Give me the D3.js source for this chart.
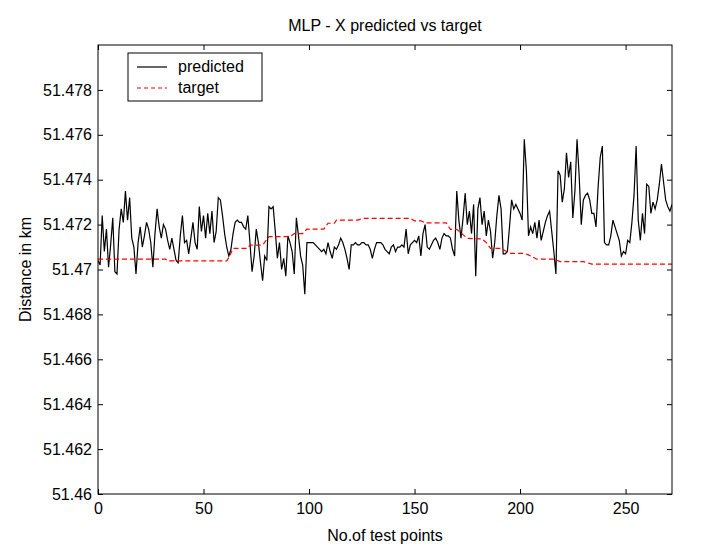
<!DOCTYPE html>
<html>
<head>
<meta charset="utf-8">
<script src="https://cdn.jsdelivr.net/npm/d3@7"></script>
<style>
  html, body { margin: 0; padding: 0; background: #ffffff; }
  svg { display: block; font-family: Arial, "Liberation Sans", sans-serif; }
</style>
</head>
<body>
<div id="chart"></div>
<script>
// ---------- data ----------
const titleText = "MLP - X predicted vs target";
const xLabelText = "No.of test points";
const yLabelText = "Distance in km";
const seriesNames = ["predicted", "target"];

const xDomain = [0, 272];
const yDomain = [51.46, 51.48];
const xTicks = [0, 50, 100, 150, 200, 250];
const xTickLabels = ["0", "50", "100", "150", "200", "250"];
const yTicks = [51.46, 51.462, 51.464, 51.466, 51.468, 51.47, 51.472, 51.474, 51.476, 51.478];
const yTickLabels = ["51.46", "51.462", "51.464", "51.466", "51.468", "51.47", "51.472", "51.474", "51.476", "51.478"];

// predicted value at test point index 0..272
const predicted = [
  51.4704, 51.4702, 51.4724, 51.4708, 51.4718, 51.4701, 51.4711, 51.4723, 51.4699, 51.4698,
  51.4718, 51.4727, 51.4721, 51.4735, 51.4722, 51.4732, 51.4714, 51.4710, 51.4698, 51.4712,
  51.4719, 51.4710, 51.4715, 51.4721, 51.4718, 51.4712, 51.4701, 51.4716, 51.4727, 51.4719,
  51.4714, 51.4720, 51.4718, 51.4713, 51.4709, 51.4714, 51.4709, 51.4704, 51.4703, 51.4715,
  51.4724, 51.4712, 51.4713, 51.4707, 51.4714, 51.4721, 51.4712, 51.4709, 51.4728, 51.4717,
  51.4724, 51.4714, 51.4725, 51.4716, 51.4726, 51.4712, 51.4717, 51.4732, 51.4731, 51.4724,
  51.4716, 51.4710, 51.4706, 51.4709, 51.4716, 51.4721, 51.4722, 51.4721, 51.4721, 51.4719,
  51.4718, 51.4724, 51.4712, 51.4699, 51.4706, 51.4718, 51.4712, 51.4703, 51.4695, 51.4706,
  51.4704, 51.4728, 51.4727, 51.4728, 51.4717, 51.4705, 51.4712, 51.4700, 51.4705, 51.4697,
  51.4715, 51.4712, 51.4708, 51.4698, 51.4723, 51.4715, 51.4706, 51.4702, 51.4689, 51.4712,
  51.4712, 51.4712, 51.4712, 51.4711, 51.4710, 51.4709, 51.4708, 51.4709, 51.4707, 51.4712,
  51.4708, 51.4705, 51.4710, 51.4709, 51.4711, 51.4714, 51.4712, 51.4709, 51.4705, 51.4700,
  51.4711, 51.4711, 51.4712, 51.4711, 51.4711, 51.4712, 51.4712, 51.4711, 51.4711, 51.4709,
  51.4705, 51.4709, 51.4712, 51.4712, 51.4712, 51.4711, 51.4709, 51.4708, 51.4707, 51.4710,
  51.4711, 51.4708, 51.4710, 51.4710, 51.4711, 51.4710, 51.4718, 51.4707, 51.4711, 51.4712,
  51.4713, 51.4712, 51.4715, 51.4706, 51.4716, 51.4720, 51.4710, 51.4709, 51.4711, 51.4713,
  51.4714, 51.4712, 51.4709, 51.4714, 51.4716, 51.4715, 51.4715, 51.4714, 51.4709, 51.4706,
  51.4735, 51.4722, 51.4714, 51.4723, 51.4734, 51.4720, 51.4726, 51.4716, 51.4729, 51.4697,
  51.4727, 51.4732, 51.4720, 51.4726, 51.4715, 51.4722, 51.4717, 51.4705, 51.4712, 51.4724,
  51.4733, 51.4727, 51.4707, 51.4707, 51.4708, 51.4719, 51.4731, 51.4727, 51.4729, 51.4727,
  51.4725, 51.4722, 51.4758, 51.4744, 51.4715, 51.4719, 51.4716, 51.4721, 51.4714, 51.4722,
  51.4713, 51.4717, 51.4721, 51.4724, 51.4726, 51.4717, 51.4708, 51.4698, 51.4744, 51.4742,
  51.4730, 51.4736, 51.4752, 51.4741, 51.4748, 51.4723, 51.4735, 51.4758, 51.4742, 51.4720,
  51.4731, 51.4733, 51.4734, 51.4731, 51.4725, 51.4725, 51.4719, 51.4737, 51.4750, 51.4755,
  51.4712, 51.4711, 51.4711, 51.4715, 51.4722, 51.4719, 51.4716, 51.4713, 51.4706, 51.4708,
  51.4707, 51.4713, 51.4712, 51.4721, 51.4733, 51.4755, 51.4722, 51.4713, 51.4725, 51.4716,
  51.4738, 51.4737, 51.4725, 51.4730, 51.4727, 51.4731, 51.4738, 51.4747, 51.4739, 51.4731,
  51.4728, 51.4726, 51.4729
];

// target: read at the points where its level changes
const targetX = [0, 32, 33, 61, 62, 64, 71, 72, 78, 81,
                 91, 93, 97, 99, 107, 109, 112, 113, 123, 126,
                 148, 150, 153, 155, 165, 167, 170, 175, 182, 184,
                 186, 191, 195, 202, 204, 208, 216, 219, 230, 234, 272];
const targetY = [51.47046, 51.47046, 51.47038, 51.47038, 51.47053, 51.47094, 51.47094, 51.47109, 51.47109, 51.47146,
                 51.47146, 51.4716, 51.4716, 51.4718, 51.4718, 51.47206, 51.47206, 51.4722, 51.4722, 51.47228,
                 51.47228, 51.47217, 51.47217, 51.47208, 51.47208, 51.47179, 51.47179, 51.47139, 51.47136, 51.4712,
                 51.47094, 51.47094, 51.47072, 51.47072, 51.47065, 51.47046, 51.47046, 51.47035, 51.47035, 51.47024, 51.47024];

// ---------- layout ----------
const W = 720, H = 550;
const m = { left: 98, top: 45, right: 48, bottom: 56 };
const pw = W - m.left - m.right, ph = H - m.top - m.bottom;

const svg = d3.select("#chart").append("svg").attr("width", W).attr("height", H);
svg.append("rect").attr("width", W).attr("height", H).attr("fill", "#ffffff");

const x = d3.scaleLinear().domain(xDomain).range([0, pw]);
const y = d3.scaleLinear().domain(yDomain).range([ph, 0]);

const g = svg.append("g").attr("transform", `translate(${m.left},${m.top})`);

svg.append("defs").append("clipPath").attr("id", "clip")
  .append("rect").attr("width", pw).attr("height", ph);

// axes (inward ticks, matlab style)
const fontSize = 16;
function styleAxis(sel) {
  sel.select(".domain").remove();
  sel.selectAll(".tick line").attr("stroke", "#000").attr("stroke-width", 1);
  sel.selectAll(".tick text").attr("fill", "#000").attr("font-size", fontSize)
     .attr("font-family", "Arial, 'Liberation Sans', sans-serif");
}
g.append("g").attr("transform", `translate(0,${ph})`)
  .call(d3.axisBottom(x).tickValues(xTicks).tickSizeInner(-5).tickSizeOuter(0).tickPadding(9)
        .tickFormat((d, i) => xTickLabels[i]))
  .call(styleAxis);
g.append("g")
  .call(d3.axisTop(x).tickValues(xTicks).tickSizeInner(-5).tickSizeOuter(0).tickFormat(""))
  .call(styleAxis);
g.append("g")
  .call(d3.axisLeft(y).tickValues(yTicks).tickSizeInner(-5).tickSizeOuter(0).tickPadding(6)
        .tickFormat((d, i) => yTickLabels[i]))
  .call(styleAxis);
g.append("g").attr("transform", `translate(${pw},0)`)
  .call(d3.axisRight(y).tickValues(yTicks).tickSizeInner(-5).tickSizeOuter(0).tickFormat(""))
  .call(styleAxis);

// lines
const plot = g.append("g").attr("clip-path", "url(#clip)");
const lineP = d3.line().x((d, i) => x(i)).y(d => y(d));
plot.append("path").datum(predicted)
  .attr("d", lineP).attr("fill", "none").attr("stroke", "#000").attr("stroke-width", 1.2);

const lineT = d3.line().x(d => x(d[0])).y(d => y(d[1]));
plot.append("path").datum(targetX.map((v, i) => [v, targetY[i]]))
  .attr("d", lineT).attr("fill", "none").attr("stroke", "#ff0000").attr("stroke-width", 1.2)
  .attr("stroke-dasharray", "5,3");

// box
g.append("rect").attr("width", pw).attr("height", ph)
  .attr("fill", "none").attr("stroke", "#000").attr("stroke-width", 1);

// title & labels
svg.append("text").attr("x", m.left + pw / 2).attr("y", 31).attr("text-anchor", "middle")
  .attr("font-size", fontSize).attr("fill", "#000").text(titleText);
svg.append("text").attr("x", m.left + pw / 2).attr("y", 541).attr("text-anchor", "middle")
  .attr("font-size", fontSize).attr("fill", "#000").text(xLabelText);
svg.append("text").attr("transform", `translate(31,${m.top + ph / 2}) rotate(-90)`)
  .attr("text-anchor", "middle").attr("font-size", fontSize).attr("fill", "#000").text(yLabelText);

// legend
const lg = svg.append("g").attr("transform", "translate(128,53)");
lg.append("rect").attr("width", 134).attr("height", 48).attr("fill", "#fff")
  .attr("stroke", "#000").attr("stroke-width", 1);
const styles = [{ c: "#000", dash: null }, { c: "#ff0000", dash: "4,3" }];
seriesNames.forEach((name, i) => {
  const yy = 14 + i * 21;
  lg.append("line").attr("x1", 9).attr("x2", 39).attr("y1", yy).attr("y2", yy)
    .attr("stroke", styles[i].c).attr("stroke-width", 1.2)
    .attr("stroke-dasharray", styles[i].dash);
  lg.append("text").attr("x", 50).attr("y", yy + 5).attr("font-size", fontSize)
    .attr("fill", "#000").text(name);
});
</script>
</body>
</html>
